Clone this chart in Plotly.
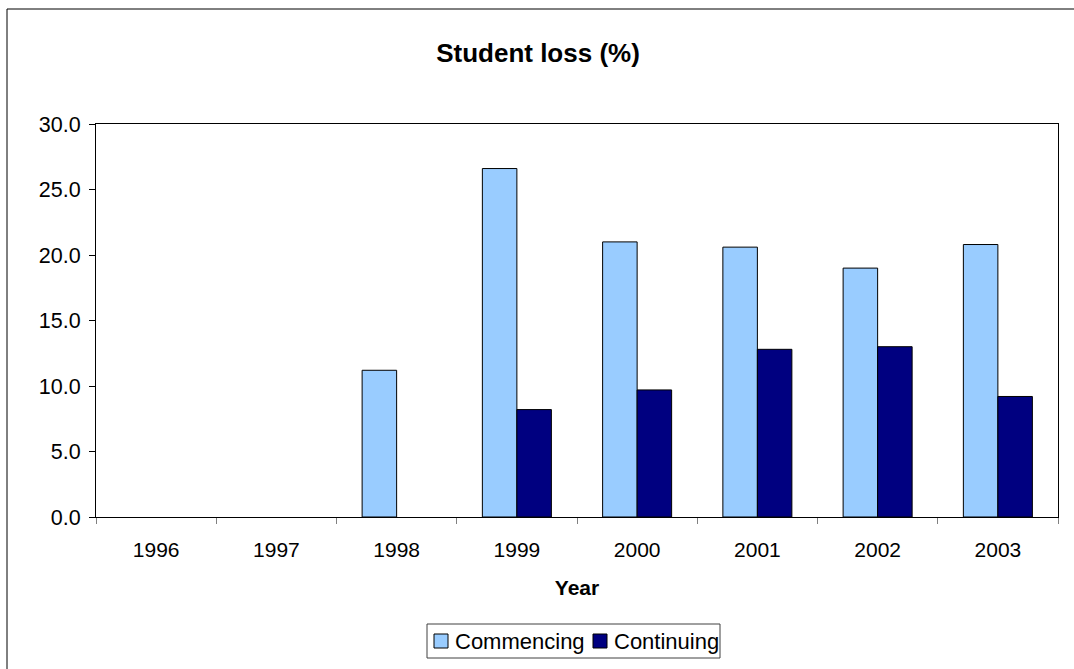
import plotly.graph_objects as go

years = ["1996", "1997", "1998", "1999", "2000", "2001", "2002", "2003"]
commencing = [None, None, 11.2, 26.6, 21.0, 20.6, 19.0, 20.8]
continuing = [None, None, None, 8.2, 9.7, 12.8, 13.0, 9.2]
series_names = ["Commencing", "Continuing"]
series_colors = ["#99CCFF", "#000080"]

FONT = "Liberation Sans, Arial, sans-serif"

fig = go.Figure()
for name, vals, col in zip(series_names, [commencing, continuing], series_colors):
    fig.add_trace(go.Bar(x=years, y=vals, name=name, showlegend=False,
                         marker=dict(color=col, line=dict(color="#000000", width=1))))

W, H = 1074, 669
L, R, T, B = 96, 16, 124, 152
pw, ph = W - L - R, H - T - B

def px_x(x):
    return (x - L) / pw

def px_y(y):
    return (H - B - y) / ph

shapes = [dict(type="rect", xref="paper", yref="paper",
               x0=px_x(7), x1=px_x(1090), y0=px_y(690), y1=px_y(9),
               line=dict(color="#000000", width=1), fillcolor="rgba(0,0,0,0)", layer="below"),
          # legend box
          dict(type="rect", xref="paper", yref="paper",
               x0=px_x(427), x1=px_x(720), y0=px_y(658), y1=px_y(624),
               line=dict(color="#404040", width=1), fillcolor="white")]
annotations = []
sw_x = [434, 593]
tx_x = [453, 612]
for name, col, sx, tx in zip(series_names, series_colors, sw_x, tx_x):
    shapes.append(dict(type="rect", xref="paper", yref="paper",
                       x0=px_x(sx), x1=px_x(sx + 14), y0=px_y(648), y1=px_y(634),
                       line=dict(color="#000000", width=1), fillcolor=col))
    annotations.append(dict(text=name, xref="paper", yref="paper", x=px_x(tx), y=px_y(641),
                            xanchor="left", yanchor="middle", showarrow=False,
                            font=dict(size=22, family=FONT, color="#000000")))

fig.update_layout(
    width=W, height=H,
    margin=dict(l=L, r=R, t=T, b=B, autoexpand=False),
    paper_bgcolor="white", plot_bgcolor="white",
    font=dict(family=FONT, size=21, color="#000000"),
    barmode="group", bargap=0.426, bargroupgap=0,
    title=dict(text="<b>Student loss (%)</b>", x=538 / W, xanchor="center",
               y=1 - 53 / H, yanchor="middle", font=dict(size=26)),
    showlegend=False,
    xaxis=dict(type="category", showline=True, linecolor="#000000", linewidth=1, mirror=True,
               ticks="outside", ticklen=6, tickcolor="#808080", tickson="boundaries",
               showgrid=False, tickfont=dict(size=21), ticklabelstandoff=14,
               title=dict(text="<b>Year</b>", font=dict(size=21), standoff=20)),
    yaxis=dict(range=[0, 30], dtick=5, tickformat=".1f", showline=True, linecolor="#000000",
               linewidth=1, mirror=True, ticks="outside", ticklen=6, tickcolor="#000000",
               showgrid=False, zeroline=False, tickfont=dict(size=21.5), ticklabelstandoff=4),
    shapes=shapes,
    annotations=annotations,
)

fig.write_html("out.html", config={"displayModeBar": False},
               post_script="document.body.style.margin='0px';")
